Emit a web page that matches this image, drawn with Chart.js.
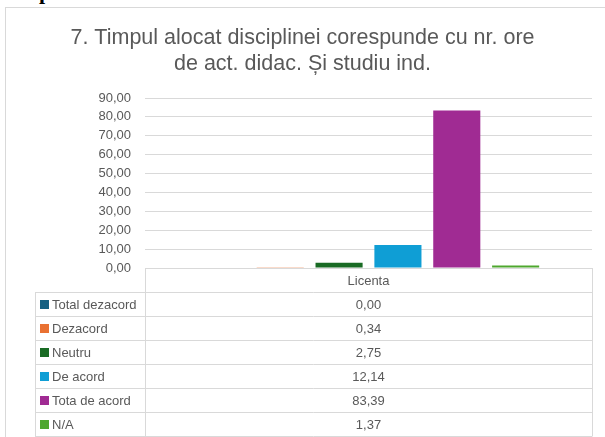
<!DOCTYPE html>
<html>
<head>
<meta charset="utf-8">
<script src="https://cdn.jsdelivr.net/npm/chart.js@4/dist/chart.umd.min.js"></script>
<style>
  body { margin:0; background:#fff; overflow:hidden; }
  #wrap { position:relative; width:605px; height:437px; }
  #head { position:absolute; left:6px; top:-21px; font:bold 22px "Liberation Serif"; color:#000; white-space:nowrap; }
  canvas { position:absolute; left:0; top:0; }
</style>
</head>
<body>
<div id="wrap">
  <div id="head">Scopul</div>
  <canvas id="myChart" width="605" height="437"></canvas>
</div>
<script>
// date grafic
var categories = ['Licenta'];
var seriesNames = ['Total dezacord', 'Dezacord', 'Neutru', 'De acord', 'Tota de acord', 'N/A'];
var seriesValues = [0.00, 0.34, 2.75, 12.14, 83.39, 1.37];
var seriesColors = ['#156082', '#E97132', '#196B24', '#0F9ED5', '#A02B93', '#4EA72E'];
var yTicks = [0, 10, 20, 30, 40, 50, 60, 70, 80, 90];
var titleLines = ['7. Timpul alocat disciplinei corespunde cu nr. ore', 'de act. didac. Și studiu ind.'];

function fmt(v){
	return v.toFixed(2).replace('.', ',');
}

var datasets = [];
for (var i = 0; i < seriesNames.length; i++) {
	datasets.push({
		label: seriesNames[i],
		data: [seriesValues[i]],
		backgroundColor: seriesColors[i],
		categoryPercentage: 0.79,
		barPercentage: 0.8
	});
}

var txtColor = '#595959';
var lineColor = '#d9d9d9';
var fontFam = '"Liberation Sans", Arial, sans-serif';

// chenar + tabel de date
var tablePlugin = {
	id: 'dataTable',
	beforeDraw: function(chart){
		var ctx = chart.ctx;
		ctx.save();
		ctx.strokeStyle = lineColor;
		ctx.lineWidth = 1;
		ctx.strokeRect(5.5, 7.5, 700, 500);
		ctx.restore();
	},
	afterDraw: function(chart){
		var ctx = chart.ctx;
		var a = chart.chartArea;
		var rowH = 24;
		var legL = 35;
		var top = a.bottom;
		ctx.save();
		ctx.strokeStyle = lineColor;
		ctx.lineWidth = 1;
		// linii orizontale
		for (var r = 0; r <= seriesNames.length + 1; r++) {
			var y = Math.round(top + r * rowH) + 0.5;
			ctx.beginPath();
			ctx.moveTo(r == 0 ? Math.round(a.left) : legL, y);
			ctx.lineTo(Math.round(a.right) + 0.5, y);
			ctx.stroke();
		}
		// linii verticale
		var x0 = Math.round(a.left) + 0.5, x1 = Math.round(a.right) + 0.5;
		ctx.beginPath();
		ctx.moveTo(x0, top); ctx.lineTo(x0, top + rowH * 7);
		ctx.moveTo(x1, top); ctx.lineTo(x1, top + rowH * 7);
		ctx.moveTo(legL + 0.5, top + rowH); ctx.lineTo(legL + 0.5, top + rowH * 7);
		ctx.stroke();

		ctx.font = '13px ' + fontFam;
		ctx.fillStyle = txtColor;
		ctx.textBaseline = 'middle';
		ctx.textAlign = 'center';
		var cx = (a.left + a.right) / 2;
		ctx.fillText(categories[0], cx, top + rowH / 2 + 1);
		for (var i = 0; i < seriesNames.length; i++) {
			var yc = top + rowH * (i + 1) + rowH / 2 + 1;
			ctx.textAlign = 'center';
			ctx.fillStyle = txtColor;
			ctx.fillText(fmt(seriesValues[i]), cx, yc);
			ctx.fillStyle = seriesColors[i];
			ctx.fillRect(legL + 5, Math.round(yc) - 5, 9, 9);
			ctx.fillStyle = txtColor;
			ctx.textAlign = 'left';
			ctx.fillText(seriesNames[i], legL + 17, yc);
		}
		ctx.restore();
	}
};

new Chart('myChart', {
	type: 'bar',
	data: {
		labels: categories,
		datasets: datasets
	},
	options: {
		responsive: false,
		animation: false,
		layout: { padding: { left: 13, right: 13, top: 0, bottom: 169 } },
		plugins: {
			legend: { display: false },
			tooltip: { enabled: false },
			title: {
				display: true,
				text: titleLines,
				color: txtColor,
				font: { family: fontFam, size: 21.5, weight: 'normal', lineHeight: 1.21 },
				padding: { top: 25, bottom: 21 }
			}
		},
		scales: {
			x: { display: false },
			y: {
				min: 0,
				max: 90,
				afterBuildTicks: function(scale){
					scale.ticks = yTicks.map(function(v){ return { value: v }; });
				},
				afterFit: function(scale){ scale.width = 132; },
				border: { display: false },
				grid: { color: lineColor, drawTicks: false },
				ticks: {
					padding: 14,
					color: txtColor,
					font: { family: fontFam, size: 13 },
					callback: function(v){ return fmt(v); }
				}
			}
		}
	},
	plugins: [tablePlugin]
});
</script>
</body>
</html>
